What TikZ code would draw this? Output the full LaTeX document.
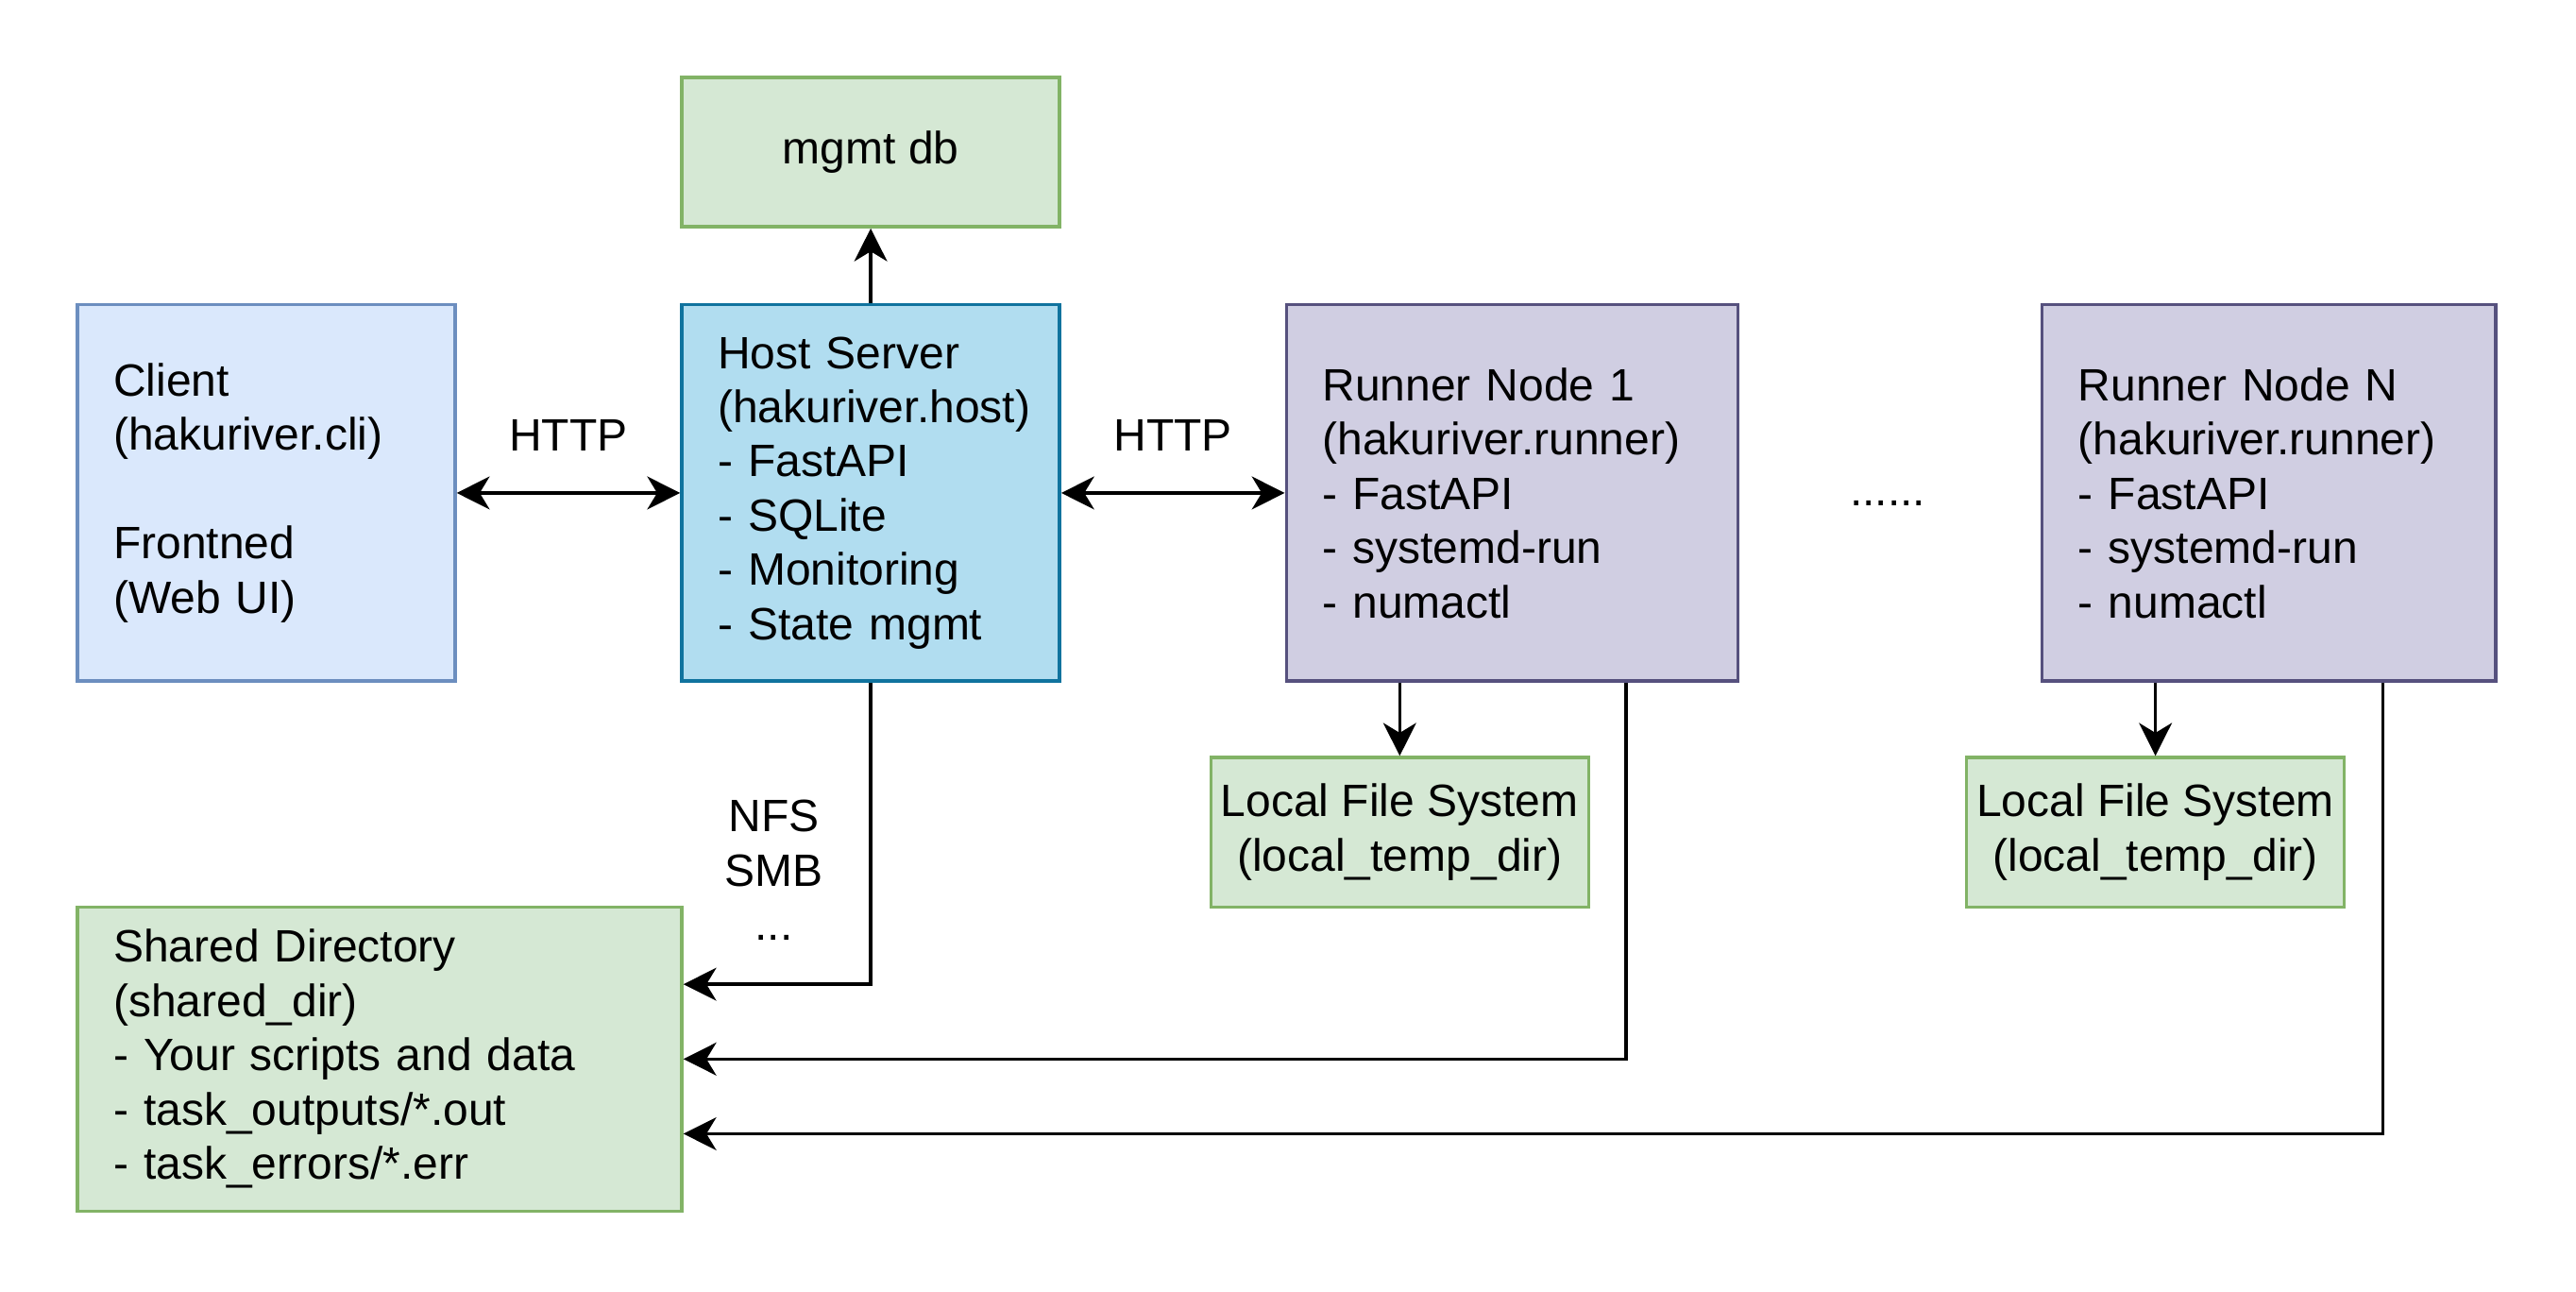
\documentclass[tikz,border=0pt]{standalone}
\usepackage{fontspec}
\setmainfont{Liberation Sans}
\usetikzlibrary{arrows.meta,calc}
\definecolor{clientfill}{HTML}{DAE8FC}
\definecolor{clientline}{HTML}{6C8EBF}
\definecolor{hostfill}{HTML}{B1DDF0}
\definecolor{hostline}{HTML}{10739E}
\definecolor{greenfill}{HTML}{D5E8D4}
\definecolor{greenline}{HTML}{82B366}
\definecolor{runnerfill}{HTML}{D0CEE2}
\definecolor{runnerline}{HTML}{56517E}
\hyphenpenalty=10000
\exhyphenpenalty=10000
\begin{document}
\begin{tikzpicture}[>={Stealth[length=4mm,width=4mm,inset=1.2mm]},x=0.2mm,y=-0.2mm,
        every node/.style={font=\fontsize{15.7}{18.8}\selectfont},
        box/.style={draw,line width=0.4mm,inner xsep=4.4mm},
        bigbox/.style={box,minimum height=45.8mm,align=left},
        smallbox/.style={box,inner xsep=1mm,fill=greenfill,draw=greenline,minimum width=46mm,minimum height=18.2mm,align=center},
        link/.style={line width=0.4mm}]
                \useasboundingbox (0,0) rectangle (1568,786);
                \node[bigbox,fill=clientfill,draw=clientline,text width=37.2mm] (client) at (162,300)
                {Client\\(hakuriver.cli)\\[18.8pt]Frontned\\(Web UI)};
                \node[bigbox,fill=hostfill,draw=hostline,text width=37.2mm] (host) at (530,300)
                {Host Server\\(hakuriver.host)\\- FastAPI\\- SQLite\\- Monitoring\\- State mgmt};
                \node[smallbox] (mgmt) at (530,92.5) {mgmt db};
                \node[bigbox,fill=runnerfill,draw=runnerline,text width=46.2mm] (runner1) at (920.5,300)
                {Runner Node 1\\(hakuriver.runner)\\- FastAPI\\- systemd-run\\- numactl};
                \node[bigbox,fill=runnerfill,draw=runnerline,text width=46.4mm] (runnerN) at (1381,300)
                {Runner Node N\\(hakuriver.runner)\\- FastAPI\\- systemd-run\\- numactl};
                \node[anchor=base] (more) at (1149,308) {......};
                \node[smallbox] (lfs1) at (852,506.5) {Local File System\\(local\_temp\_dir)};
                \node[smallbox] (lfsN) at (1312,506.5) {Local File System\\(local\_temp\_dir)};
                \node[box,fill=greenfill,draw=greenline,align=left,text width=64.8mm,minimum height=37mm] (shared) at (231,644.5)
                {Shared Directory\\(shared\_dir)\\- Your scripts and data\\- task\_outputs/*.out\\- task\_errors/*.err};
                % links
                \draw[link,<->] (client) -- node[yshift=7mm] (http1) {HTTP} (host);
                \draw[link,<->] (host) -- node[yshift=7mm] (http2) {HTTP} (runner1);
                \draw[link,->] (host) -- (mgmt);
                \draw[link,->] (runner1.south -| lfs1.north) -- (lfs1.north);
                \draw[link,->] (runnerN.south -| lfsN.north) -- (lfsN.north);
                \draw[link,->] (host.south) |- node[pos=0.311,xshift=-11.8mm,align=center] (proto) {NFS\\SMB\\...} ([yshift=9.1mm]shared.east);
                \draw[link,->] ($(runner1.south west)!0.75!(runner1.south east)$) |- (shared.east);
                \draw[link,->] ($(runnerN.south west)!0.75!(runnerN.south east)$) |- ([yshift=-9.1mm]shared.east);
            \end{tikzpicture}
\end{document}
